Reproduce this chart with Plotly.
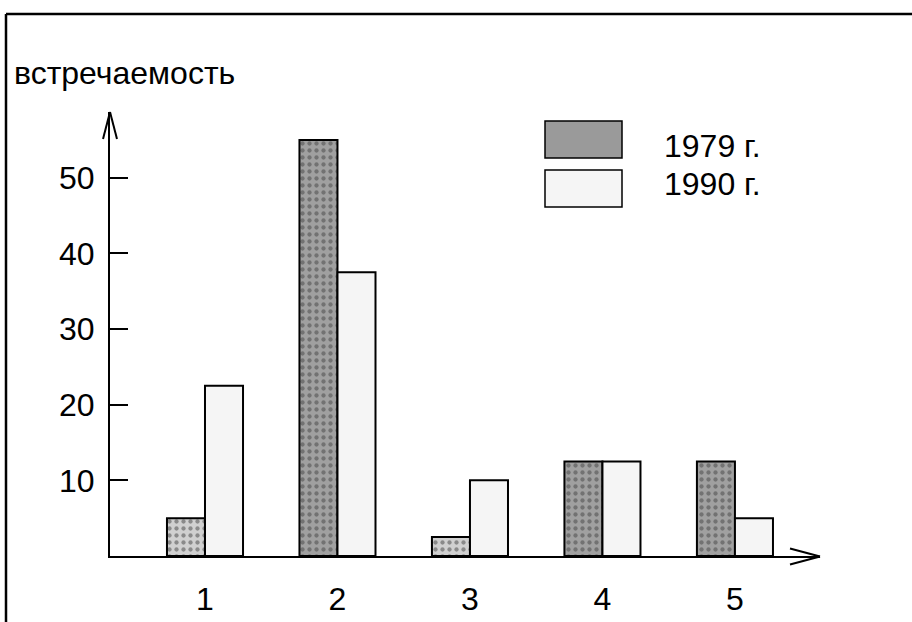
import plotly.graph_objects as go

# Data
categories = [1, 2, 3, 4, 5]
values_1979 = [5, 55, 2.5, 12.5, 12.5]
values_1990 = [22.5, 37.5, 10, 12.5, 5]
series_names = ["1979 г.", "1990 г."]
y_ticks = [10, 20, 30, 40, 50]
y_title = "встречаемость"

# 1979 bars: lighter shade for small groups 1 and 3
fill_1979 = ["#d0d0d0", "#a0a0a0", "#d0d0d0", "#a0a0a0", "#a0a0a0"]
dots_1979 = ["#bcbcbc", "#868686", "#bcbcbc", "#868686", "#868686"]

W, H = 912, 622
L, R, T, B = 110, 92, 112, 66
PW, PH = W - L - R, H - T - B


def px(x):
    return (x - L) / PW


def py(y):
    return 1 - (y - T) / PH


FONT = "Arial, Liberation Sans, sans-serif"
FS = 32

fig = go.Figure()
fig.add_bar(
    x=categories, y=values_1979, name=series_names[0],
    marker=dict(color=fill_1979, line=dict(color="black", width=2),
                pattern=dict(shape=".", fgcolor=dots_1979, size=7,
                             solidity=0.3, fillmode="overlay")),
)
fig.add_bar(
    x=categories, y=values_1990, name=series_names[1],
    marker=dict(color="#f5f5f5", line=dict(color="black", width=2)),
)

fig.update_layout(
    template="none",
    width=W, height=H,
    margin=dict(l=L, r=R, t=T, b=B, pad=0, autoexpand=False),
    paper_bgcolor="white", plot_bgcolor="white",
    barmode="group", bargap=0.426, bargroupgap=0,
    showlegend=False,
    font=dict(family=FONT, size=FS, color="black"),
    xaxis=dict(range=[0.283, 5.642], tickvals=categories, automargin=False,
               showline=True, linecolor="black", linewidth=2,
               ticks="", showgrid=False, zeroline=False,
               ticklabelstandoff=14, tickfont=dict(size=FS)),
    yaxis=dict(range=[0, 58.7], tickvals=y_ticks, automargin=False,
               showline=True, linecolor="black", linewidth=2,
               ticks="inside", ticklen=18, tickwidth=2, tickcolor="black",
               showgrid=False, zeroline=False,
               ticklabelstandoff=7, tickfont=dict(size=FS)),
)

line = dict(color="black", width=2)
shapes = []
# outer frame (left and top edges)
shapes.append(dict(type="line", xref="paper", yref="paper",
                   x0=px(6), y0=py(H + 5), x1=px(6), y1=py(14),
                   line=dict(color="black", width=2.5)))
shapes.append(dict(type="line", xref="paper", yref="paper",
                   x0=px(6), y0=py(14), x1=px(W + 5), y1=py(14),
                   line=dict(color="black", width=2.5)))
# x axis arrowhead
shapes.append(dict(type="line", xref="paper", yref="paper",
                   x0=px(790), y0=py(548.5), x1=px(820), y1=py(556.5), line=line))
shapes.append(dict(type="line", xref="paper", yref="paper",
                   x0=px(790), y0=py(564.5), x1=px(820), y1=py(556.5), line=line))
# y axis arrowhead
shapes.append(dict(type="line", xref="paper", yref="paper",
                   x0=px(103), y0=py(139), x1=px(110), y1=py(112), line=line))
shapes.append(dict(type="line", xref="paper", yref="paper",
                   x0=px(117), y0=py(139), x1=px(110), y1=py(112), line=line))
# legend swatches
shapes.append(dict(type="rect", xref="paper", yref="paper",
                   x0=px(545), x1=px(622), y0=py(158), y1=py(121),
                   fillcolor="#9a9a9a", line=dict(color="black", width=1.5)))
shapes.append(dict(type="rect", xref="paper", yref="paper",
                   x0=px(545), x1=px(622), y0=py(207), y1=py(170),
                   fillcolor="#f5f5f5", line=dict(color="black", width=1.5)))
fig.update_layout(shapes=shapes)

annotations = [
    dict(text=y_title, xref="paper", yref="paper", x=px(12), y=py(73),
         xanchor="left", yanchor="middle", showarrow=False,
         font=dict(size=FS)),
    dict(text=series_names[0], xref="paper", yref="paper", x=px(662), y=py(146),
         xanchor="left", yanchor="middle", showarrow=False, font=dict(size=FS)),
    dict(text=series_names[1], xref="paper", yref="paper", x=px(662), y=py(184),
         xanchor="left", yanchor="middle", showarrow=False, font=dict(size=FS)),
]
fig.update_layout(annotations=annotations)

fig.write_html("out.html")
